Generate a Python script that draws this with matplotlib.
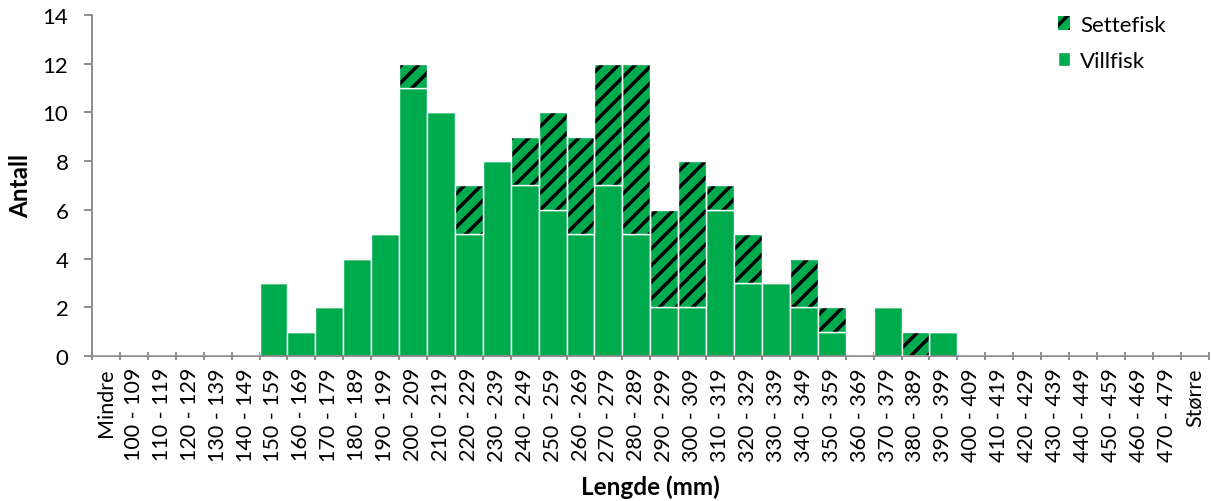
import matplotlib
matplotlib.use("Agg")
import matplotlib.pyplot as plt
import numpy as np

plt.rcParams['font.family'] = ['Lato', 'DejaVu Sans']
plt.rcParams['hatch.linewidth'] = 2.5

categories = ["Mindre"] + [f"{a} - {a + 9}" for a in range(100, 480, 10)] + ["Større"]

villfisk = [0, 0, 0, 0, 0, 0, 3, 1, 2, 4, 5, 11, 10, 5, 8, 7, 6, 5, 7, 5,
            2, 2, 6, 3, 3, 2, 1, 0, 2, 0, 1, 0, 0, 0, 0, 0, 0, 0, 0, 0]
settefisk = [0, 0, 0, 0, 0, 0, 0, 0, 0, 0, 0, 1, 0, 2, 0, 2, 4, 4, 5, 7,
             4, 6, 1, 2, 0, 2, 1, 0, 0, 1, 0, 0, 0, 0, 0, 0, 0, 0, 0, 0]

green = '#00AB4E'
axis_grey = '#868686'
W, H = 1211, 502

fig = plt.figure(figsize=(W / 100, H / 100), dpi=100)
ax = fig.add_axes([0.076, 0.289, 0.922, 0.679])

x = np.arange(len(categories))
ax.bar(x, villfisk, width=1.0, color=green, edgecolor='white', linewidth=1.0,
       label='Villfisk', zorder=2)
# hatched stack: black hatch lines, then thin white outline on top
ax.bar(x, settefisk, width=1.0, bottom=villfisk, facecolor=green, edgecolor='black',
       linewidth=0, hatch='//', label='Settefisk', zorder=2)
ax.bar(x, settefisk, width=1.0, bottom=villfisk, fill=False, edgecolor='white',
       linewidth=1.0, zorder=3)

ax.set_xlim(-0.5, len(categories) - 0.5)
ax.set_ylim(0, 14)
ax.set_yticks(range(0, 15, 2))

# boundary ticks between categories, labels centred in each category
ax.set_xticks(np.arange(-0.5, len(categories) + 0.5, 1.0))
ax.set_xticklabels([])
ax.set_xticks(x, minor=True)
ax.set_xticklabels(categories, minor=True, rotation=90, fontsize=15.5)
ax.tick_params(axis='x', which='minor', length=0, pad=8)
ax.tick_params(axis='x', which='major', length=6, width=1.3, color=axis_grey, direction='inout')
ax.tick_params(axis='y', length=6, width=1.3, color=axis_grey, direction='out',
               labelsize=16, pad=11)

for side in ('top', 'right'):
    ax.spines[side].set_visible(False)
for side in ('left', 'bottom'):
    ax.spines[side].set_color(axis_grey)
    ax.spines[side].set_linewidth(1.3)

fig.text(21 / W, 1 - 186 / H, 'Antall', fontsize=17.5, fontweight='bold',
         rotation=90, ha='center', va='center')
fig.text(650 / W, 1 - 487 / H, 'Lengde (mm)', fontsize=17.5, fontweight='bold',
         ha='center', va='center')

handles, labels = ax.get_legend_handles_labels()
fig.legend(handles[::-1], labels[::-1], loc='upper left', frameon=False, fontsize=16,
           handlelength=0.55, handleheight=0.55, handletextpad=0.45, labelspacing=0.72,
           borderpad=0, borderaxespad=0,
           bbox_to_anchor=(1058 / W, 1 - 16 / H))

fig.savefig('out.png', dpi=100)
